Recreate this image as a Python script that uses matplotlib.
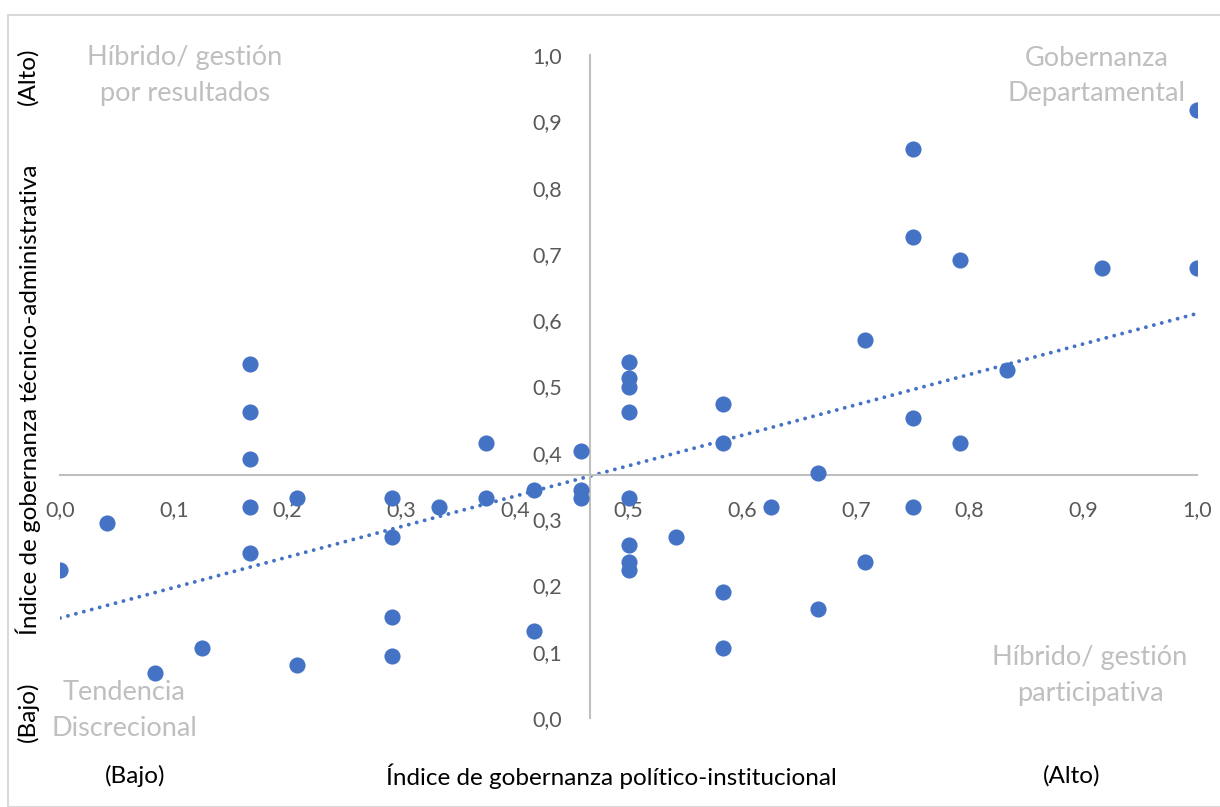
import numpy as np
import matplotlib
matplotlib.use("Agg")
import matplotlib.pyplot as plt
from matplotlib.ticker import FuncFormatter, MultipleLocator
from matplotlib.patches import Rectangle

plt.rcParams['font.family'] = ['Lato', 'DejaVu Sans']

# indice politico-institucional (x) y tecnico-administrativo (y)
pol = [0.0, 0.0417, 0.0833, 0.125,
       0.1667, 0.1667, 0.1667, 0.1667, 0.1667,
       0.2083, 0.2083,
       0.2917, 0.2917, 0.2917, 0.2917,
       0.3333, 0.375, 0.375, 0.4167, 0.4167,
       0.4583, 0.4583, 0.4583,
       0.5, 0.5, 0.5, 0.5, 0.5, 0.5, 0.5, 0.5,
       0.5417,
       0.5833, 0.5833, 0.5833, 0.5833,
       0.625, 0.6667, 0.6667, 0.7083, 0.7083,
       0.75, 0.75, 0.75, 0.75,
       0.7917, 0.7917, 0.8333, 0.9167, 1.0, 1.0]
tec = [0.223, 0.294, 0.068, 0.106,
       0.534, 0.462, 0.391, 0.318, 0.249,
       0.332, 0.080,
       0.332, 0.273, 0.152, 0.094,
       0.318, 0.415, 0.332, 0.344, 0.131,
       0.403, 0.344, 0.332,
       0.537, 0.513, 0.499, 0.462, 0.332, 0.261, 0.235, 0.223,
       0.273,
       0.474, 0.415, 0.190, 0.106,
       0.318, 0.370, 0.164, 0.570, 0.235,
       0.858, 0.725, 0.452, 0.318,
       0.691, 0.415, 0.525, 0.679, 0.917, 0.679]

x_cross = 0.466
y_cross = 0.367

azul = "#4472C4"
gris_ejes = "#bfbfbf"
gris_txt = "#595959"
gris_cuad = "#bfbfbf"

fig = plt.figure(figsize=(12.2, 8.07), dpi=100)
ax = fig.add_axes([60 / 1220, (807 - 718) / 807, 1137 / 1220, 663 / 807])
ax.set_xlim(0, 1)
ax.set_ylim(0, 1)
ax.patch.set_alpha(0)

# marco del grafico
fig.patches.append(Rectangle((8 / 1220, 0), 1.0, (807 - 15) / 807,
                             transform=fig.transFigure, fill=False,
                             edgecolor="#d9d9d9", linewidth=1.5))

ax.scatter(pol, tec, s=135, color=azul, zorder=3, linewidths=0)

# linea de tendencia
m, b = np.polyfit(pol, tec, 1)
xs = np.array([0.0, 1.0])
ax.plot(xs, m * xs + b, color=azul, linestyle=(0, (0.01, 2.1)),
        linewidth=2.8, dash_capstyle='round', zorder=2)

for s in ['top', 'right']:
    ax.spines[s].set_visible(False)
ax.spines['left'].set_position(('data', x_cross))
ax.spines['bottom'].set_position(('data', y_cross))
ax.spines['left'].set_color(gris_ejes)
ax.spines['bottom'].set_color(gris_ejes)
ax.spines['left'].set_linewidth(1.5)
ax.spines['bottom'].set_linewidth(1.5)

fmt = FuncFormatter(lambda v, p: f"{v:.1f}".replace('.', ','))
ax.xaxis.set_major_locator(MultipleLocator(0.1))
ax.yaxis.set_major_locator(MultipleLocator(0.1))
ax.xaxis.set_major_formatter(fmt)
ax.yaxis.set_major_formatter(fmt)
ax.tick_params(axis='x', length=0, pad=18, labelsize=15.5, labelcolor=gris_txt)
ax.tick_params(axis='y', length=0, pad=20, labelsize=15.5, labelcolor=gris_txt)

# etiquetas de cuadrantes
kw = dict(transform=fig.transFigure, color=gris_cuad, fontsize=19.5,
          ha='center', va='center', linespacing=1.55)
fig.text(185 / 1220, 1 - 76 / 807, "Híbrido/ gestión\npor resultados", **kw)
fig.text(1097 / 1220, 1 - 76 / 807, "Gobernanza\nDepartamental", **kw)
fig.text(1090 / 1220, 1 - 676 / 807, "Híbrido/ gestión\nparticipativa", **kw)
fig.text(124 / 1220, 1 - 710 / 807, "Tendencia\nDiscrecional", **kw)

# titulos de ejes
kt = dict(transform=fig.transFigure, color="black", fontsize=17.5,
          ha='center', va='center')
fig.text(28 / 1220, 1 - 400 / 807, "Índice de gobernanza técnico-administrativa",
         rotation=90, **kt)
fig.text(28 / 1220, 1 - 76 / 807, "(Alto)", rotation=90, **kt)
fig.text(28 / 1220, 1 - 712 / 807, "(Bajo)", rotation=90, **kt)
fig.text(135 / 1220, 1 - 776 / 807, "(Bajo)", **kt)
fig.text(611 / 1220, 1 - 776 / 807, "Índice de gobernanza político-institucional", **kt)
fig.text(1072 / 1220, 1 - 776 / 807, "(Alto)", **kt)

fig.savefig("out.png", dpi=100)
